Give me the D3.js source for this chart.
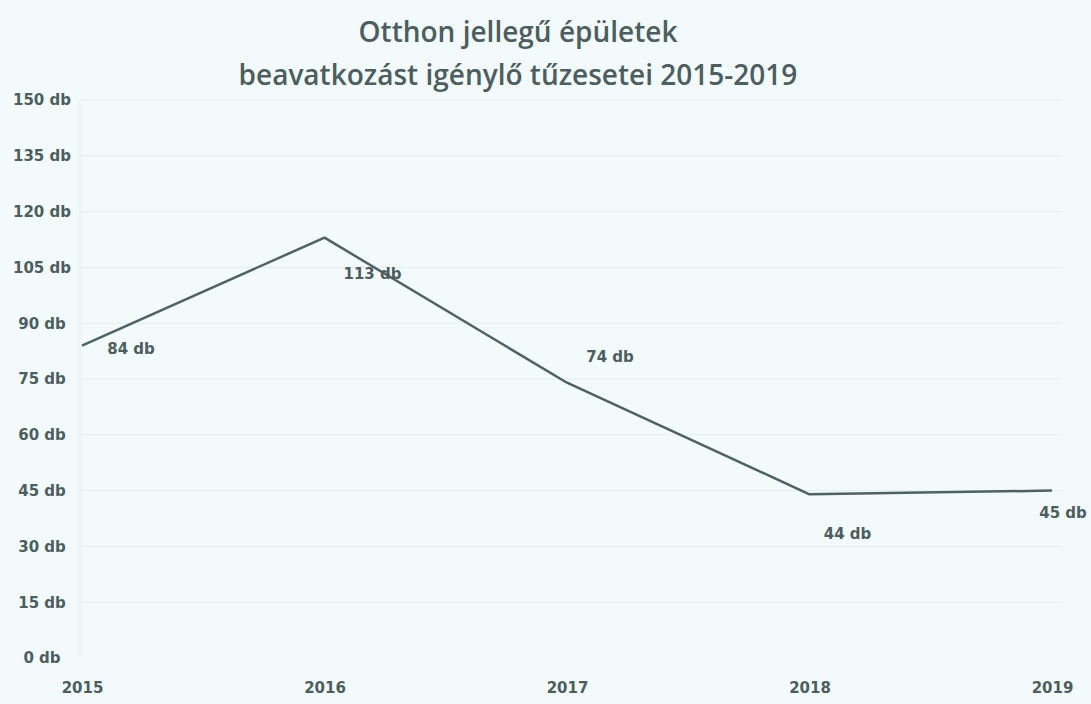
<!DOCTYPE html>
<html>
<head>
<meta charset="utf-8">
<script src="https://cdn.jsdelivr.net/npm/d3@7"></script>
<style>
  html, body { margin: 0; padding: 0; background: #f2fafb; }
  svg { display: block; }
</style>
</head>
<body>
<div id="chart"></div>
<script>
// Data
const years = ["2015", "2016", "2017", "2018", "2019"];
const fires = [84, 113, 74, 44, 45];
const yTicks = [0, 15, 30, 45, 60, 75, 90, 105, 120, 135, 150];
const titleLines = ["Otthon jellegű épületek", "beavatkozást igénylő tűzesetei 2015-2019"];

// Setup
const width = 1091, height = 704;
const ink = "#4c5e5f";
const font = "'DejaVu Sans', sans-serif";

const svg = d3.select("#chart").append("svg")
  .attr("width", width)
  .attr("height", height);

const x = d3.scalePoint()
  .domain(years)
  .range([82, 1052]);

const y = d3.scaleLinear()
  .domain([0, 150])
  .range([658, 100]);

// faint gridlines
svg.append("g")
  .selectAll("line")
  .data(yTicks.filter(d => d > 0))
  .join("line")
  .attr("x1", 80)
  .attr("x2", width - 30)
  .attr("y1", d => y(d))
  .attr("y2", d => y(d))
  .attr("stroke", "#e4eef0")
  .attr("stroke-width", 1);

svg.append("line")
  .attr("x1", 80).attr("x2", 80)
  .attr("y1", y(150)).attr("y2", y(0))
  .attr("stroke", "#e4eef0");

// y axis
const yAxis = svg.append("g")
  .attr("transform", "translate(42,0)")
  .call(d3.axisLeft(y).tickValues(yTicks).tickSize(0).tickPadding(0).tickFormat(d => d + " db"));
yAxis.select(".domain").remove();
yAxis.selectAll("text")
  .attr("text-anchor", "middle")
  .attr("fill", ink)
  .style("font-family", font)
  .style("font-size", "15px")
  .style("font-weight", "bold");

// x axis
const xAxis = svg.append("g")
  .attr("transform", "translate(0,682)")
  .call(d3.axisBottom(x).tickSize(0).tickPadding(0));
xAxis.select(".domain").remove();
xAxis.selectAll("text")
  .attr("fill", ink)
  .style("font-family", font)
  .style("font-size", "15px")
  .style("font-weight", "bold");

// line
const line = d3.line()
  .x((d, i) => x(years[i]))
  .y(d => y(d));

svg.append("path")
  .datum(fires)
  .attr("d", line)
  .attr("fill", "none")
  .attr("stroke", "#4f6262")
  .attr("stroke-width", 2.5)
  .attr("stroke-linejoin", "round");

// value labels (offset from each point, as placed in the original)
const labelOffsets = [[49, 3], [48, 36], [43, -26], [38, 39], [11, 22]];

svg.append("g")
  .selectAll("text")
  .data(fires)
  .join("text")
  .attr("x", (d, i) => x(years[i]) + labelOffsets[i][0])
  .attr("y", (d, i) => y(d) + labelOffsets[i][1])
  .attr("dy", "0.35em")
  .attr("text-anchor", "middle")
  .attr("fill", ink)
  .style("font-family", font)
  .style("font-size", "15px")
  .style("font-weight", "bold")
  .text(d => d + " db");

// title
svg.append("g")
  .selectAll("text")
  .data(titleLines)
  .join("text")
  .attr("x", 518)
  .attr("y", (d, i) => 32 + i * 43)
  .attr("dy", "0.35em")
  .attr("text-anchor", "middle")
  .attr("fill", ink)
  .style("font-family", "'Open Sans', sans-serif")
  .style("font-size", "28px")
  .style("font-weight", 600)
  .text(d => d);
</script>
</body>
</html>
